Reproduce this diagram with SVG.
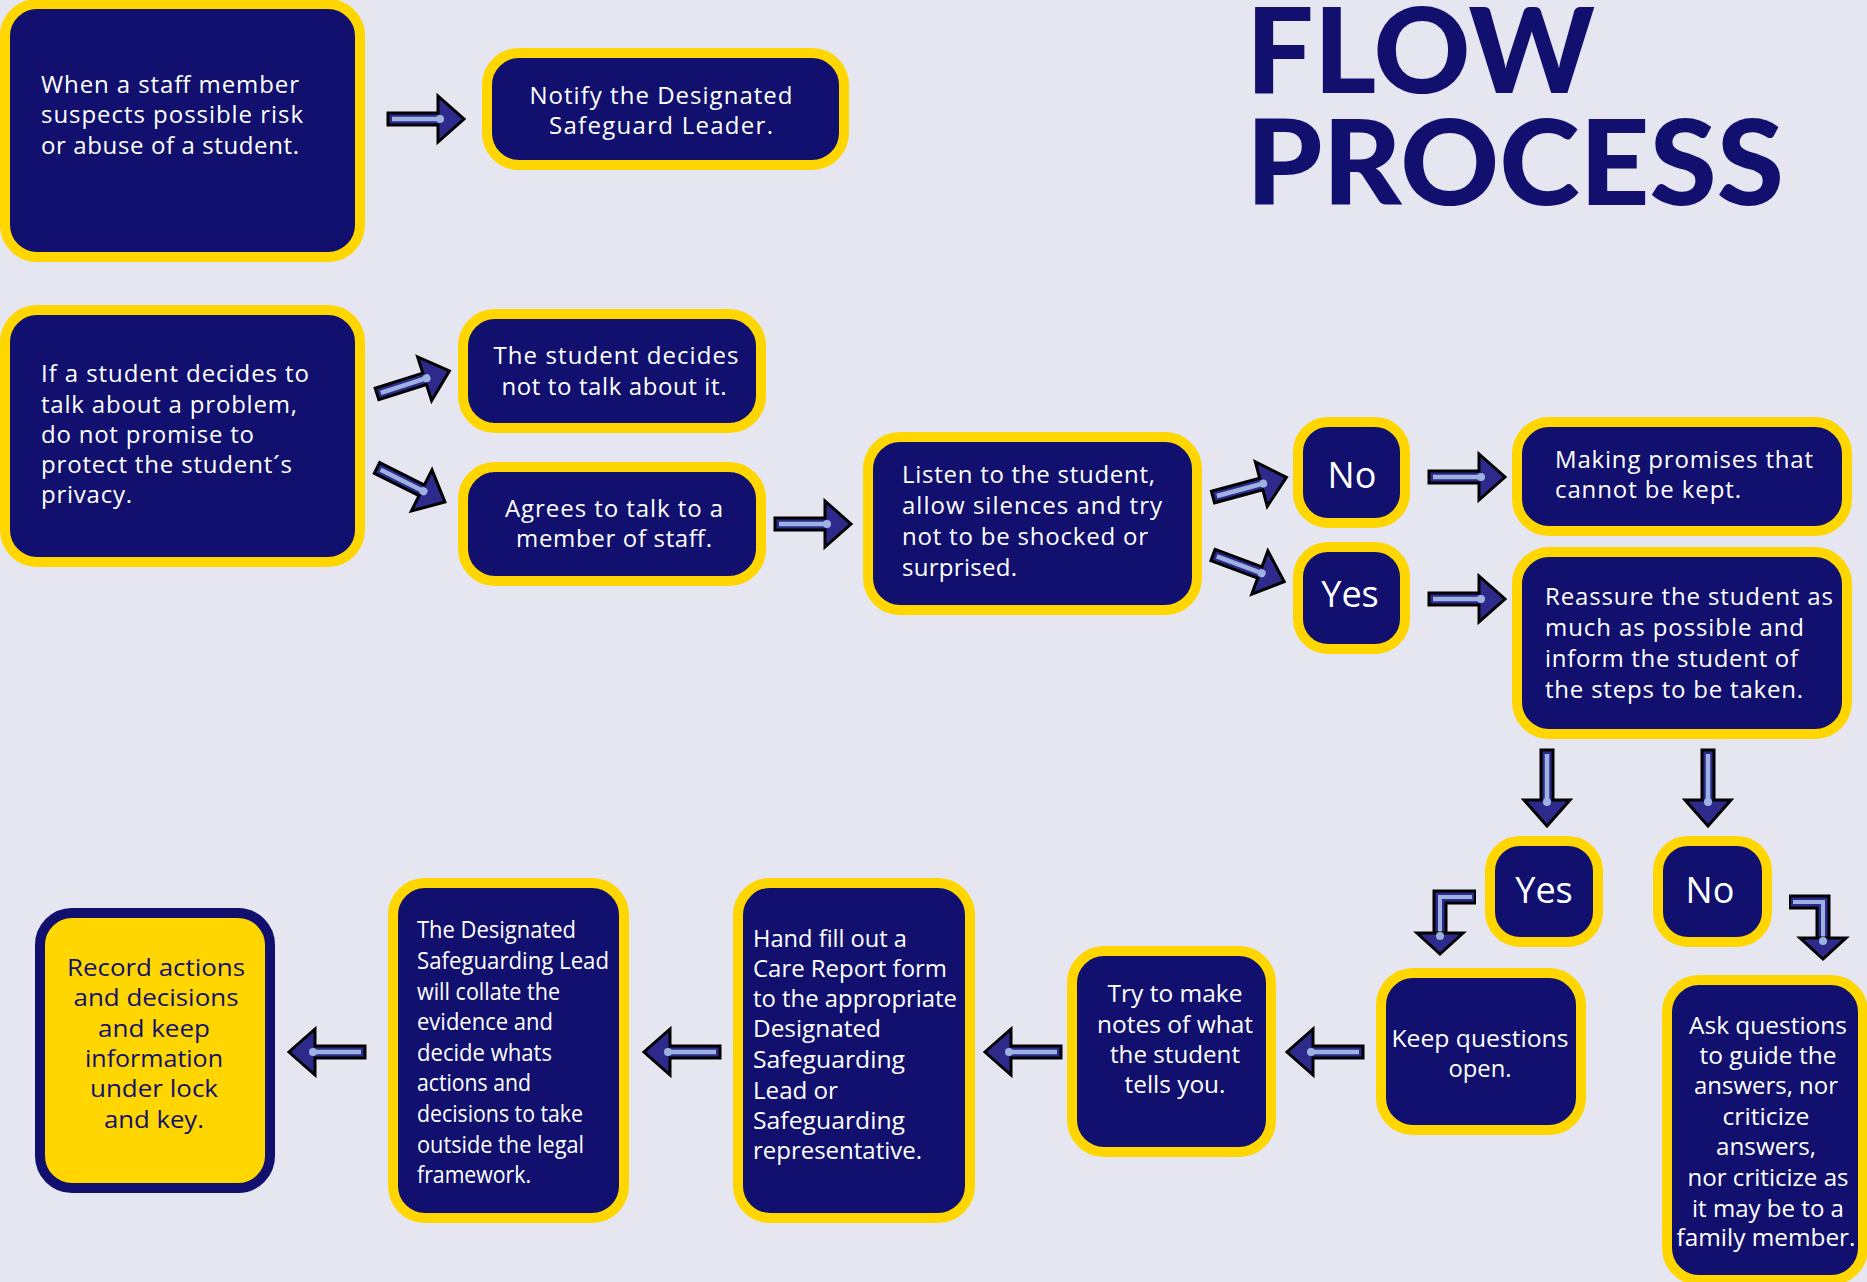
<svg xmlns="http://www.w3.org/2000/svg" width="1867" height="1282" viewBox="0 0 1867 1282">
<style>
.bg{fill:#E6E6F0}
.box{fill:#11106F;stroke:#FFD600;stroke-width:10}
.rec{fill:#FFD600;stroke:#11106F;stroke-width:10}
.t{font-family:"Open Sans","Noto Sans","DejaVu Sans",sans-serif;font-size:24px;font-weight:500;fill:#FFFFFF}
.tn{font-family:"Open Sans","Noto Sans","DejaVu Sans",sans-serif;font-size:24px;font-weight:500;fill:#11106F}
.yn{font-family:"Open Sans","Noto Sans","DejaVu Sans",sans-serif;font-size:36px;font-weight:500;fill:#FFFFFF;text-anchor:middle}
.m{text-anchor:middle}
.title{font-family:Lato,"Open Sans",sans-serif;font-weight:900;font-size:119px;fill:#11106F}
.sk{fill:none;stroke:#000;stroke-width:15}
.sb{fill:none;stroke:#2D2A8C;stroke-width:9}
.sl{fill:none;stroke:#9DB2E0;stroke-width:4}
.hd{fill:#2D2A8C;stroke:#000;stroke-width:3}
</style>
<defs>
<g id="arr">
<polygon points="0,-6 50,-6 50,-23 76,0 50,23 50,6 0,6" fill="#2D2A8C" stroke="#000" stroke-width="3"/>
<line x1="4" y1="0" x2="52" y2="0" stroke="#9DB2E0" stroke-width="4.5"/>
<circle cx="52" cy="0" r="4" fill="#9DB2E0"/>
</g>
</defs>
<rect class="bg" x="0" y="0" width="1867" height="1282"/>

<g id="title">
<text class="title" x="1246" y="93" textLength="349" lengthAdjust="spacingAndGlyphs">FLOW</text>
<text class="title" x="1246" y="205" textLength="538" lengthAdjust="spacingAndGlyphs">PROCESS</text>
</g>

<g id="n1">
<rect class="box" x="5" y="4" width="355" height="253" rx="32"/>
<text class="t" x="41" y="93" textLength="258">When a staff member</text>
<text class="t" x="41" y="123" textLength="262">suspects possible risk</text>
<text class="t" x="41" y="154" textLength="258">or abuse of a student.</text>
</g>
<g id="n2">
<rect class="box" x="487" y="53" width="357" height="112" rx="32"/>
<text class="t m" x="661" y="104" textLength="263">Notify the Designated</text>
<text class="t m" x="661" y="134" textLength="224">Safeguard Leader.</text>
</g>
<g id="n3">
<rect class="box" x="5" y="310" width="355" height="252" rx="32"/>
<text class="t" x="41" y="382" textLength="268">If a student decides to</text>
<text class="t" x="41" y="413" textLength="256">talk about a problem,</text>
<text class="t" x="41" y="443" textLength="213">do not promise to</text>
<text class="t" x="41" y="473" textLength="251">protect the student´s</text>
<text class="t" x="41" y="503" textLength="91">privacy.</text>
</g>
<g id="n4">
<rect class="box" x="463" y="314" width="298" height="114" rx="32"/>
<text class="t m" x="616" y="364" textLength="245">The student decides</text>
<text class="t m" x="614" y="395" textLength="225">not to talk about it.</text>
</g>
<g id="n5">
<rect class="box" x="463" y="467" width="298" height="114" rx="32"/>
<text class="t m" x="614" y="517" textLength="218">Agrees to talk to a</text>
<text class="t m" x="614" y="547" textLength="196">member of staff.</text>
</g>
<g id="n6">
<rect class="box" x="868" y="437" width="329" height="173" rx="32"/>
<text class="t" x="902" y="483" textLength="253">Listen to the student,</text>
<text class="t" x="902" y="514" textLength="260">allow silences and try</text>
<text class="t" x="902" y="545" textLength="246">not to be shocked or</text>
<text class="t" x="902" y="576" textLength="115">surprised.</text>
</g>
<g id="n7">
<rect class="box" x="1298" y="422" width="107" height="101" rx="30"/>
<text class="yn" x="1352" y="488">No</text>
</g>
<g id="n8">
<rect class="box" x="1298" y="547" width="107" height="102" rx="30"/>
<text class="yn" x="1350" y="607">Yes</text>
</g>
<g id="n9">
<rect class="box" x="1517" y="422" width="330" height="109" rx="32"/>
<text class="t" x="1555" y="468" textLength="258">Making promises that</text>
<text class="t" x="1555" y="498" textLength="186">cannot be kept.</text>
</g>
<g id="n10">
<rect class="box" x="1517" y="552" width="330" height="182" rx="32"/>
<text class="t" x="1545" y="605" textLength="288">Reassure the student as</text>
<text class="t" x="1545" y="636" textLength="259">much as possible and</text>
<text class="t" x="1545" y="667" textLength="253">inform the student of</text>
<text class="t" x="1545" y="698" textLength="258">the steps to be taken.</text>
</g>
<g id="n11">
<rect class="box" x="1490" y="841" width="108" height="101" rx="30"/>
<text class="yn" x="1544" y="903">Yes</text>
</g>
<g id="n12">
<rect class="box" x="1658" y="841" width="109" height="101" rx="30"/>
<text class="yn" x="1710" y="903">No</text>
</g>
<g id="n13">
<rect class="box" x="1381" y="973" width="200" height="157" rx="32"/>
<text class="t m" x="1480" y="1047" textLength="177" lengthAdjust="spacingAndGlyphs">Keep questions</text>
<text class="t m" x="1480" y="1077" textLength="63" lengthAdjust="spacingAndGlyphs">open.</text>
</g>
<g id="n14">
<rect class="box" x="1667" y="980" width="196" height="300" rx="32"/>
<text class="t m" x="1768" y="1034" textLength="158" lengthAdjust="spacingAndGlyphs">Ask questions</text>
<text class="t m" x="1768" y="1064" textLength="137" lengthAdjust="spacingAndGlyphs">to guide the</text>
<text class="t m" x="1766" y="1094" textLength="144" lengthAdjust="spacingAndGlyphs">answers, nor</text>
<text class="t m" x="1766" y="1125" textLength="87" lengthAdjust="spacingAndGlyphs">criticize</text>
<text class="t m" x="1766" y="1155" textLength="100" lengthAdjust="spacingAndGlyphs">answers,</text>
<text class="t m" x="1768" y="1186" textLength="161" lengthAdjust="spacingAndGlyphs">nor criticize as</text>
<text class="t m" x="1768" y="1217" textLength="152" lengthAdjust="spacingAndGlyphs">it may be to a</text>
<text class="t m" x="1766" y="1246" textLength="179" lengthAdjust="spacingAndGlyphs">family member.</text>
</g>
<g id="n15">
<rect class="box" x="1072" y="951" width="199" height="201" rx="32"/>
<text class="t m" x="1175" y="1002" textLength="135" lengthAdjust="spacingAndGlyphs">Try to make</text>
<text class="t m" x="1175" y="1033" textLength="156" lengthAdjust="spacingAndGlyphs">notes of what</text>
<text class="t m" x="1175" y="1063" textLength="130" lengthAdjust="spacingAndGlyphs">the student</text>
<text class="t m" x="1175" y="1093" textLength="101" lengthAdjust="spacingAndGlyphs">tells you.</text>
</g>
<g id="n16">
<rect class="box" x="738" y="883" width="232" height="335" rx="32"/>
<text class="t" x="753" y="947" textLength="154" lengthAdjust="spacingAndGlyphs">Hand fill out a</text>
<text class="t" x="753" y="977" textLength="194" lengthAdjust="spacingAndGlyphs">Care Report form</text>
<text class="t" x="753" y="1007" textLength="204" lengthAdjust="spacingAndGlyphs">to the appropriate</text>
<text class="t" x="753" y="1037" textLength="128" lengthAdjust="spacingAndGlyphs">Designated</text>
<text class="t" x="753" y="1068" textLength="152" lengthAdjust="spacingAndGlyphs">Safeguarding</text>
<text class="t" x="753" y="1099" textLength="85" lengthAdjust="spacingAndGlyphs">Lead or</text>
<text class="t" x="753" y="1129" textLength="152" lengthAdjust="spacingAndGlyphs">Safeguarding</text>
<text class="t" x="753" y="1159" textLength="169" lengthAdjust="spacingAndGlyphs">representative.</text>
</g>
<g id="n17">
<rect class="box" x="393" y="883" width="231" height="335" rx="32"/>
<text class="t" x="417" y="938" textLength="159" lengthAdjust="spacingAndGlyphs">The Designated</text>
<text class="t" x="417" y="969" textLength="192" lengthAdjust="spacingAndGlyphs">Safeguarding Lead</text>
<text class="t" x="417" y="1000" textLength="143" lengthAdjust="spacingAndGlyphs">will collate the</text>
<text class="t" x="417" y="1030" textLength="136" lengthAdjust="spacingAndGlyphs">evidence and</text>
<text class="t" x="417" y="1061" textLength="135" lengthAdjust="spacingAndGlyphs">decide whats</text>
<text class="t" x="417" y="1091" textLength="114" lengthAdjust="spacingAndGlyphs">actions and</text>
<text class="t" x="417" y="1122" textLength="166" lengthAdjust="spacingAndGlyphs">decisions to take</text>
<text class="t" x="417" y="1153" textLength="167" lengthAdjust="spacingAndGlyphs">outside the legal</text>
<text class="t" x="417" y="1183" textLength="114" lengthAdjust="spacingAndGlyphs">framework.</text>
</g>
<g id="n18">
<rect class="rec" x="40" y="913" width="230" height="275" rx="32"/>
<text class="tn m" x="156" y="976" textLength="178" lengthAdjust="spacingAndGlyphs">Record actions</text>
<text class="tn m" x="156" y="1006" textLength="165" lengthAdjust="spacingAndGlyphs">and decisions</text>
<text class="tn m" x="154" y="1037" textLength="112" lengthAdjust="spacingAndGlyphs">and keep</text>
<text class="tn m" x="154" y="1067" textLength="138" lengthAdjust="spacingAndGlyphs">information</text>
<text class="tn m" x="154" y="1097" textLength="128" lengthAdjust="spacingAndGlyphs">under lock</text>
<text class="tn m" x="154" y="1128" textLength="100" lengthAdjust="spacingAndGlyphs">and key.</text>
</g>

<g id="connectors">
<use href="#arr" transform="translate(388,119)"/>
<use href="#arr" transform="translate(377,394) rotate(-17.7)"/>
<use href="#arr" transform="translate(377,468) rotate(26.6)"/>
<use href="#arr" transform="translate(775,524)"/>
<use href="#arr" transform="translate(1213,497) rotate(-15)"/>
<use href="#arr" transform="translate(1213,555) rotate(20.5)"/>
<use href="#arr" transform="translate(1429,477)"/>
<use href="#arr" transform="translate(1429,599)"/>
<use href="#arr" transform="translate(1547,750) rotate(90)"/>
<use href="#arr" transform="translate(1708,750) rotate(90)"/>
<use href="#arr" transform="translate(1363,1052) rotate(180)"/>
<use href="#arr" transform="translate(1061,1052) rotate(180)"/>
<use href="#arr" transform="translate(720,1052) rotate(180)"/>
<use href="#arr" transform="translate(365,1052) rotate(180)"/>
<g id="elbow-yes">
<path class="sk" d="M1476,897 H1440 V936"/>
<path class="sb" d="M1474,897 H1440 V936"/>
<path class="sl" d="M1472,897 H1440 V936"/>
<polygon class="hd" points="1417,933 1463,933 1440,954"/>
<circle cx="1440" cy="936" r="4" fill="#9DB2E0"/>
</g>
<g id="elbow-no">
<path class="sk" d="M1789,902 H1823 V941"/>
<path class="sb" d="M1791,902 H1823 V941"/>
<path class="sl" d="M1793,902 H1823 V941"/>
<polygon class="hd" points="1800,938 1846,938 1823,959"/>
<circle cx="1823" cy="941" r="4" fill="#9DB2E0"/>
</g>
</g>
</svg>
